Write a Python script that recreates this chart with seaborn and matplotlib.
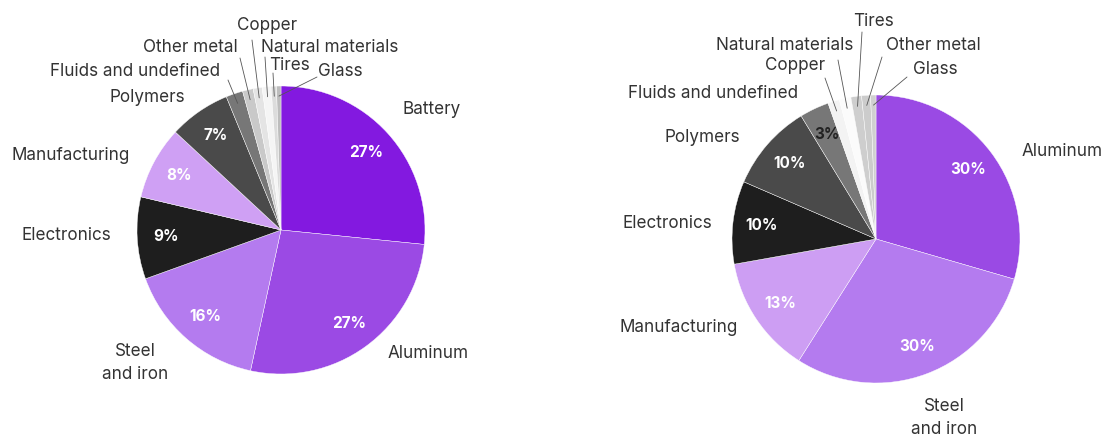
import matplotlib
matplotlib.use("Agg")
import matplotlib.pyplot as plt
import numpy as np
import seaborn as sns

# left pie (share of total)
left_labels = ["Battery", "Aluminum", "Steel\nand iron", "Electronics", "Manufacturing",
               "Polymers", "Fluids and undefined", "Other metal", "Copper",
               "Natural materials", "Tires", "Glass"]
left_values = [26.6, 26.8, 16.1, 9.2, 8.2, 6.9, 1.9, 1.2, 1.0, 1.0, 0.6, 0.5]
left_pct = ["27%", "27%", "16%", "9%", "8%", "7%", "", "", "", "", "", ""]
left_colors = ["#8319e0", "#9b4ae4", "#b47bef", "#1e1e1e", "#cfa0f4", "#4a4a4a",
               "#777777", "#c9c9c9", "#e4e4e4", "#f5f5f5", "#dcdcdc", "#bdbdbd"]

# right pie
right_labels = ["Aluminum", "Steel\nand iron", "Manufacturing", "Electronics", "Polymers",
                "Fluids and undefined", "Copper", "Natural materials", "Tires",
                "Other metal", "Glass"]
right_values = [29.5, 29.5, 13.2, 9.3, 9.8, 3.3, 1.3, 1.3, 1.2, 1.0, 0.6]
right_pct = ["30%", "30%", "13%", "10%", "10%", "3%", "", "", "", "", ""]
right_colors = ["#9a4ae4", "#b47bef", "#cd9ef3", "#1e1e1e", "#4a4a4a", "#777777",
                "#f3f3f3", "#fbfbfb", "#cecece", "#cccccc", "#d0d0d0"]

W, H = 1104, 437
R = 144

# label layout in pixels from top-left: text centre, leader start (or None)
left_pos = [((432, 110), None), ((428, 353), None), ((135, 363), None), ((66, 236), None),
            ((71, 156), None), ((147, 97), None), ((135, 72), (228, 80)),
            ((190, 48), (240, 58)), ((267, 25), (252, 40)), ((330, 48), (265, 57)),
            ((289, 66), (273, 73)), ((340, 72), (317, 77))]
right_pos = [((1062, 152), None), ((944, 418), None), ((679, 328), None), ((667, 223), None),
             ((702, 137), None), ((713, 93), None), ((795, 65), (825, 78)),
             ((785, 45), (838, 60)), ((873, 22), (862, 32)), ((933, 45), (882, 57)),
             ((935, 70), (907, 77))]


def draw(ax, cx, cy, values, colors, pct, labels, pos):
    center = (cx, H - cy)
    wedges, _ = ax.pie(values, colors=colors, startangle=90, counterclock=False,
                       radius=R, center=center,
                       wedgeprops={"linewidth": 0.3, "edgecolor": "white"})
    for w, p, lab, ((tx, ty), start) in zip(wedges, pct, labels, pos):
        ang = np.deg2rad((w.theta1 + w.theta2) / 2)
        if p:
            ax.text(center[0] + 0.8 * R * np.cos(ang), center[1] + 0.8 * R * np.sin(ang), p,
                    ha="center", va="center", fontsize=11, fontweight="bold",
                    color="#222222" if p == "3%" else "white")
        ax.text(tx, H - ty, lab, ha="center", va="center", fontsize=12.3,
                color="#333333", linespacing=1.45)
        if start is not None:
            ex = center[0] + 0.93 * R * np.cos(ang)
            ey = center[1] + 0.93 * R * np.sin(ang)
            ax.plot([start[0], ex], [H - start[1], ey], color="#555555", lw=0.6)


sns.set_theme(style="white")
plt.rcParams["font.family"] = ["Inter", "DejaVu Sans"]

fig = plt.figure(figsize=(W / 100, H / 100), dpi=100)
ax = fig.add_axes([0, 0, 1, 1])
draw(ax, 281, 230, left_values, left_colors, left_pct, left_labels, left_pos)
draw(ax, 876, 239, right_values, right_colors, right_pct, right_labels, right_pos)
ax.set_xlim(0, W)
ax.set_ylim(0, H)
ax.set_aspect("equal")
ax.axis("off")

fig.savefig("out.png", dpi=100)
plt.close(fig)
